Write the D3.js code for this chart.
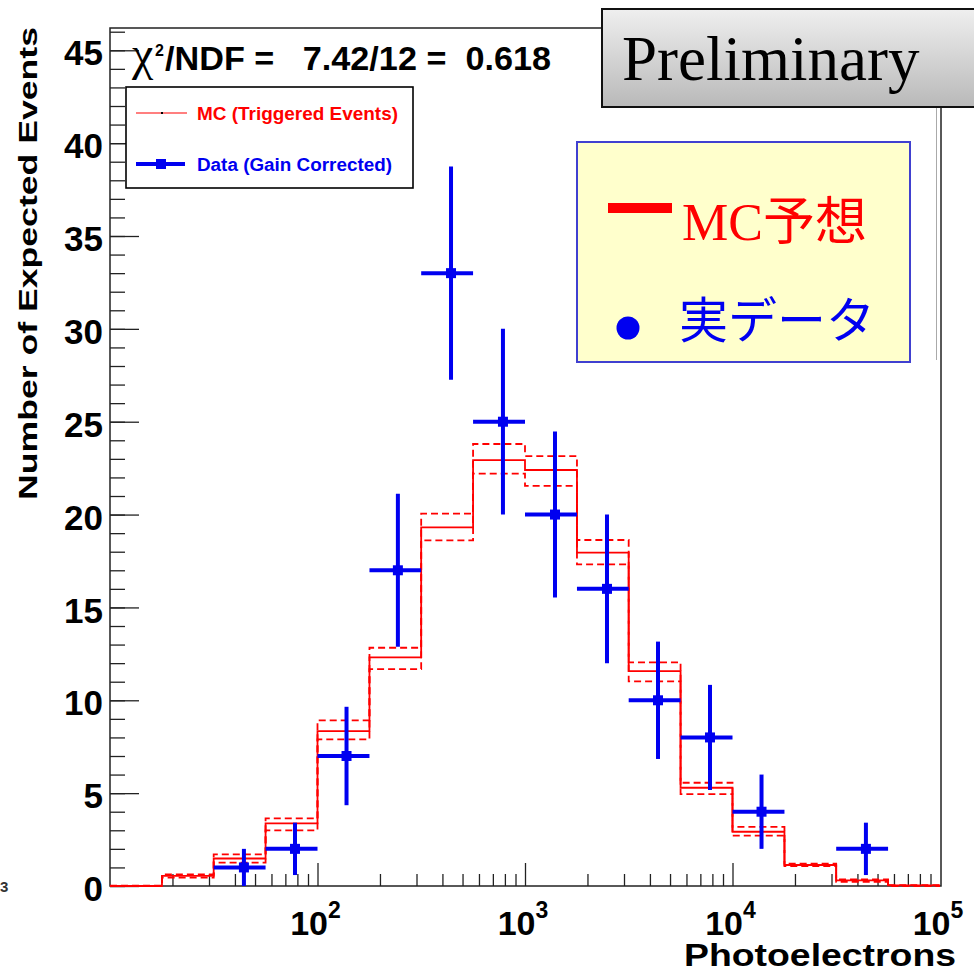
<!DOCTYPE html>
<html>
<head>
<meta charset="utf-8">
<script src="https://cdn.jsdelivr.net/npm/d3@7"></script>
<style>
  html, body { margin: 0; padding: 0; background: #fff; }
  svg { display: block; }
</style>
</head>
<body>
<svg id="chart" width="974" height="975"></svg>
<script>
// Photoelectron spectrum: MC histogram (with +-1 sigma band) vs measured data.

const binEdges = [10, 17.8, 31.6, 56.2, 100, 178, 316, 562, 1000, 1780, 3160, 5620, 10000, 17800, 31600, 56200, 100000];
const mcMean  = [0, 0.55, 1.48, 3.37, 8.34, 12.31, 19.31, 22.93, 22.40, 17.95, 11.57, 5.29, 2.92, 1.13, 0.30, 0.03];
const mcUpper = [0.02, 0.62, 1.70, 3.64, 8.92, 12.83, 20.05, 23.80, 23.15, 18.63, 12.04, 5.56, 3.18, 1.20, 0.36, 0.05];
const mcLower = [0, 0.45, 1.26, 3.00, 7.90, 11.68, 18.61, 22.20, 21.55, 17.32, 11.02, 4.95, 2.71, 1.07, 0.23, 0];

const dataBin    = [2, 3, 4, 5, 6, 7, 8, 9, 10, 11, 12, 14];
const dataX      = [44.2, 77.9, 138, 244, 440, 783, 1395, 2484, 4375, 7790, 13800, 43950];
const dataCounts = [1, 2, 7, 17, 33, 25, 20, 16, 10, 8, 4, 2];
const dataErr    = [1.0, 1.41, 2.65, 4.12, 5.74, 5.0, 4.47, 4.0, 3.16, 2.83, 2.0, 1.41];

const yMajorTicks = [0, 5, 10, 15, 20, 25, 30, 35, 40, 45];
const xMajorTicks = [1e2, 1e3, 1e4, 1e5];
const xTickBase = "10";
const xTickExp = ["2", "3", "4", "5"];

const SANS = "'Liberation Sans', Arial, Helvetica, sans-serif";
const SERIF = "'Liberation Serif', 'Times New Roman', serif";
const CJK = "'Noto Sans CJK JP', 'Noto Sans CJK SC', sans-serif";
const RED = "#ff0000", BLUE = "#0000f0";

const svg = d3.select("#chart");
const L = 110, R = 941, T = 28, B = 886;

const x = d3.scaleLog().domain([10, 1e5]).range([L, 940]);
const y = d3.scaleLinear().domain([0, 46.2]).range([B, T]);

// ---- axes ----
const minorY = d3.range(0, 47);
svg.append("g").attr("transform", `translate(${L},0)`)
  .call(d3.axisLeft(y).tickValues(minorY).tickSize(-15).tickFormat(""))
  .call((g) => g.select(".domain").remove());
const yAx = svg.append("g").attr("transform", `translate(${L},0)`)
  .call(d3.axisLeft(y).tickValues(yMajorTicks).tickSize(-29).tickPadding(7))
  .call((g) => g.select(".domain").remove());
yAx.selectAll("text")
  .attr("font-family", SANS).attr("font-weight", "bold").attr("font-size", 35)
  .attr("fill", "#000").attr("dy", "0.42em");

const minorX = [];
[10, 100, 1000, 10000].forEach((d) => { for (let k = 2; k <= 9; k++) minorX.push(d * k); });
svg.append("g").attr("transform", `translate(0,${B})`)
  .call(d3.axisBottom(x).tickValues(minorX).tickSize(-12).tickFormat(""))
  .call((g) => g.select(".domain").remove());
svg.append("g").attr("transform", `translate(0,${B})`)
  .call(d3.axisBottom(x).tickValues(xMajorTicks.slice(0, 3)).tickSize(-23).tickFormat(""))
  .call((g) => g.select(".domain").remove());
svg.selectAll("g.tick line").attr("stroke", "#222").attr("stroke-width", 1.3);

const xl = svg.append("g").selectAll("text").data(xMajorTicks).join("text")
  .attr("x", (d) => x(d) - 2).attr("y", 935)
  .attr("text-anchor", "middle")
  .attr("font-family", SANS).attr("font-weight", "bold").attr("fill", "#000");
xl.append("tspan").attr("font-size", 34).text(xTickBase);
xl.append("tspan").attr("font-size", 23).attr("dy", -17).text((d, i) => xTickExp[i]);

// frame
svg.append("rect").attr("x", L).attr("y", T).attr("width", R - L).attr("height", B - T)
  .attr("fill", "none").attr("stroke", "#222").attr("stroke-width", 1.5);

// axis titles
svg.append("text")
  .attr("transform", `translate(37,500) rotate(-90)`)
  .attr("font-family", SANS).attr("font-weight", "bold").attr("font-size", 25)
  .attr("textLength", 473).attr("lengthAdjust", "spacingAndGlyphs")
  .text("Number of Expected Events");
svg.append("text")
  .attr("x", 684).attr("y", 966)
  .attr("font-family", SANS).attr("font-weight", "bold").attr("font-size", 32)
  .attr("textLength", 272).attr("lengthAdjust", "spacingAndGlyphs")
  .text("Photoelectrons");
svg.append("text").attr("x", 0).attr("y", 892)
  .attr("font-family", SANS).attr("font-weight", "bold").attr("font-size", 15).attr("fill", "#333")
  .text("3");

// ---- MC histograms ----
function stepPts(vals) {
  const pts = vals.map((v, i) => [binEdges[i], v]);
  pts.push([binEdges[vals.length], vals[vals.length - 1]]);
  return pts;
}
const step = d3.line().x((d) => x(d[0])).y((d) => y(d[1])).curve(d3.curveStepAfter);

[mcUpper, mcLower].forEach((vals) => {
  svg.append("path").attr("d", step(stepPts(vals)))
    .attr("fill", "none").attr("stroke", RED).attr("stroke-width", 1.8)
    .attr("stroke-dasharray", "7,4");
});
svg.append("path").attr("d", step(stepPts(mcMean)))
  .attr("fill", "none").attr("stroke", RED).attr("stroke-width", 1.8);

// ---- data points ----
const pts = svg.append("g").selectAll("g").data(dataCounts).join("g");
pts.append("line")
  .attr("x1", (d, i) => x(binEdges[dataBin[i]])).attr("x2", (d, i) => x(binEdges[dataBin[i] + 1]))
  .attr("y1", (d) => y(d)).attr("y2", (d) => y(d))
  .attr("stroke", BLUE).attr("stroke-width", 4);
pts.append("line")
  .attr("x1", (d, i) => x(dataX[i])).attr("x2", (d, i) => x(dataX[i]))
  .attr("y1", (d, i) => y(d + dataErr[i])).attr("y2", (d, i) => y(Math.max(0, d - dataErr[i])))
  .attr("stroke", BLUE).attr("stroke-width", 4);
pts.append("rect")
  .attr("x", (d, i) => x(dataX[i]) - 5).attr("y", (d) => y(d) - 5)
  .attr("width", 10).attr("height", 10).attr("fill", BLUE);

// ---- fit text + ROOT legend ----
svg.append("text").attr("x", 132).attr("y", 70)
  .attr("font-family", SERIF).attr("font-size", 48).text("χ");
svg.append("text").attr("x", 155).attr("y", 56)
  .attr("font-family", SANS).attr("font-weight", "bold").attr("font-size", 16).text("2");
svg.append("text").attr("x", 165).attr("y", 70)
  .attr("font-family", SANS).attr("font-weight", "bold").attr("font-size", 34)
  .attr("xml:space", "preserve")
  .attr("textLength", 386).attr("lengthAdjust", "spacingAndGlyphs")
  .text("/NDF =   7.42/12 =  0.618");

const leg = svg.append("g");
leg.append("rect").attr("x", 126).attr("y", 87).attr("width", 287).attr("height", 101)
  .attr("fill", "#fff").attr("stroke", "#000").attr("stroke-width", 1.6);
leg.append("line").attr("x1", 136).attr("x2", 187).attr("y1", 113).attr("y2", 113)
  .attr("stroke", RED).attr("stroke-width", 1.2);
leg.append("rect").attr("x", 161).attr("y", 112).attr("width", 2).attr("height", 2).attr("fill", "#000");
leg.append("text").attr("x", 197).attr("y", 119.5)
  .attr("font-family", SANS).attr("font-weight", "bold").attr("font-size", 18).attr("fill", RED)
  .attr("textLength", 201).attr("lengthAdjust", "spacingAndGlyphs")
  .text("MC (Triggered Events)");
leg.append("line").attr("x1", 136).attr("x2", 185).attr("y1", 164).attr("y2", 164)
  .attr("stroke", BLUE).attr("stroke-width", 4);
leg.append("rect").attr("x", 156).attr("y", 159).attr("width", 10).attr("height", 10).attr("fill", BLUE);
leg.append("text").attr("x", 197).attr("y", 170.5)
  .attr("font-family", SANS).attr("font-weight", "bold").attr("font-size", 18).attr("fill", BLUE)
  .attr("textLength", 195).attr("lengthAdjust", "spacingAndGlyphs")
  .text("Data (Gain Corrected)");

// ---- slide overlays ----
const defs = svg.append("defs");
const gr = defs.append("linearGradient").attr("id", "prelim").attr("x1", 0).attr("y1", 0).attr("x2", 0).attr("y2", 1);
gr.append("stop").attr("offset", "0%").attr("stop-color", "#efefef");
gr.append("stop").attr("offset", "100%").attr("stop-color", "#b9b9b9");

svg.append("line").attr("x1", 936.5).attr("x2", 936.5).attr("y1", 107).attr("y2", 360)
  .attr("stroke", "#aaa").attr("stroke-width", 1);
svg.append("rect").attr("x", 602).attr("y", 9).attr("width", 400).attr("height", 98)
  .attr("fill", "url(#prelim)").attr("stroke", "#111").attr("stroke-width", 2);
svg.append("text").attr("x", 622).attr("y", 80)
  .attr("font-family", SERIF).attr("font-size", 63).attr("fill", "#000")
  .text("Preliminary");

svg.append("rect").attr("x", 577).attr("y", 142).attr("width", 333).attr("height", 220)
  .attr("fill", "#ffffcc").attr("stroke", "#4040d0").attr("stroke-width", 2);
svg.append("rect").attr("x", 608).attr("y", 203).attr("width", 64).attr("height", 10).attr("fill", RED);
const mcT = svg.append("text").attr("x", 682).attr("y", 240).attr("fill", RED);
mcT.append("tspan").attr("font-family", SERIF).attr("font-size", 52).text("MC");
mcT.append("tspan").attr("font-family", CJK).attr("font-size", 52).text("予想");
svg.append("circle").attr("cx", 628).attr("cy", 328).attr("r", 11.5).attr("fill", BLUE);
svg.append("text").attr("x", 679).attr("y", 338)
  .attr("font-family", CJK).attr("font-size", 49).attr("fill", BLUE)
  .text("実データ");
</script>
</body>
</html>
